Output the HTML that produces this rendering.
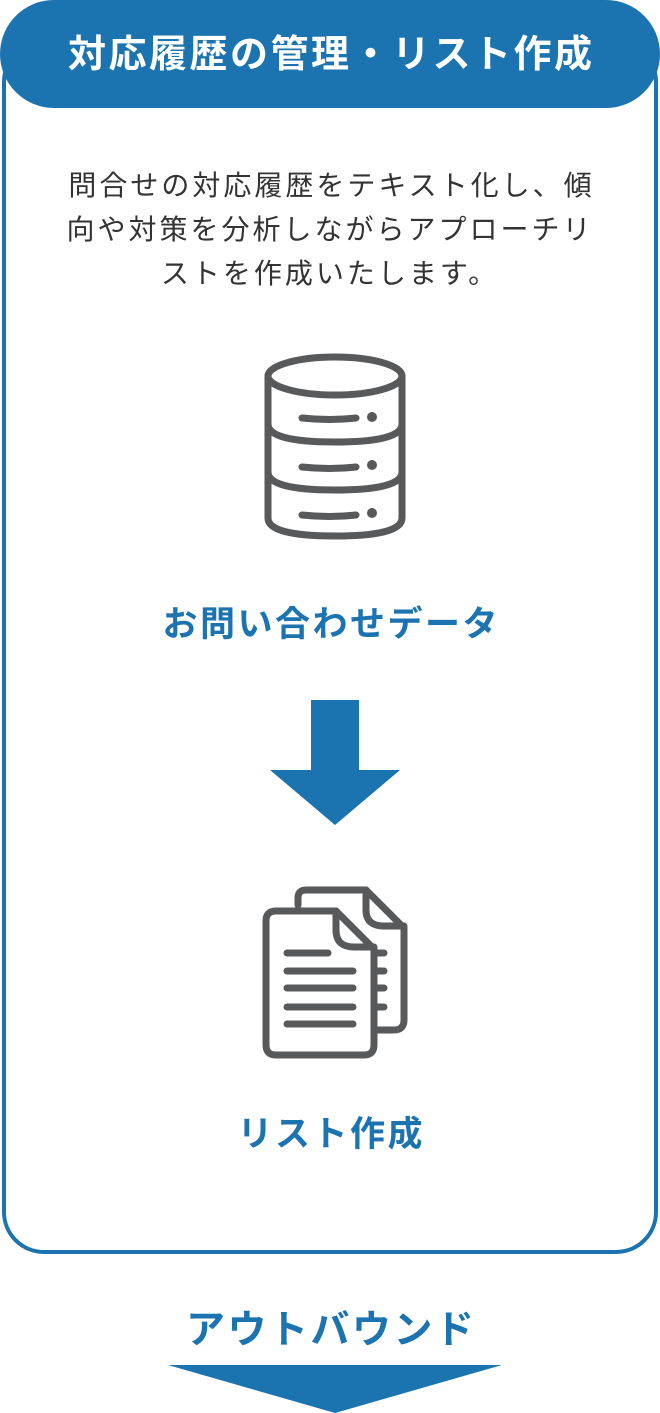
<!DOCTYPE html>
<html><head><meta charset="utf-8"><style>
html,body{margin:0;padding:0;background:#fff}
body{width:660px;height:1413px;position:relative;overflow:hidden;font-family:"Liberation Sans","Noto Sans CJK JP",sans-serif}
.box{position:absolute;left:2px;top:40px;width:648px;height:1206px;border:4px solid #1b73b0;border-radius:42px}
.pill{position:absolute;left:0;top:0;width:660px;height:108px;background:#1b73b0;border-radius:54px;color:#fff;font-size:38px;font-weight:bold;text-align:center;line-height:110px;letter-spacing:2.5px;text-indent:2.5px}
.desc{position:absolute;left:0;width:660px;top:164px;text-align:center;font-size:28px;line-height:44px;color:#333;letter-spacing:3px;text-indent:3px}
.lbl{position:absolute;left:0;width:660px;text-align:center;color:#1b73b0;font-weight:bold;font-size:35px;letter-spacing:2.5px;text-indent:2.5px}
svg{position:absolute;left:0;top:0}
</style></head><body>
<div class="box"></div>
<div class="pill">対応履歴の管理・リスト作成</div>
<div class="desc">問合せの対応履歴をテキスト化し、傾<br>向や対策を分析しながらアプローチリ<br>ストを作成いたします。</div>
<div class="lbl" style="top:596px">お問い合わせデータ</div>
<div class="lbl" style="top:1106px">リスト作成</div>
<div class="lbl" style="top:1299px;font-size:39px;letter-spacing:2.5px;text-indent:2.5px">アウトバウンド</div>
<svg width="660" height="1413" viewBox="0 0 660 1413">
<g fill="none" stroke="#58595b" stroke-width="7" stroke-linecap="round" stroke-linejoin="round">
<ellipse cx="335" cy="376" rx="67" ry="19"/>
<path d="M268 376 V518 Q268 536 335 536 Q402 536 402 518 V376"/>
<path d="M268 424 Q268 442 335 442 Q402 442 402 424"/>
<path d="M268 472 Q268 490 335 490 Q402 490 402 472"/>
<path d="M302 418 Q330 421 356 418 M302 467 Q330 470 356 467 M302 515 Q330 518 356 515"/>
<path d="M298 905 V898 Q298 890 306 890 H366 L404 928 V1020 Q404 1030 394 1030 H378"/>
<path d="M366 890 V910 Q366 926 384 926 H404"/>
<path d="M377 953 H384 M377 971 H384 M377 988 H384 M377 1007 H384"/>
<path d="M276 911 H336 L374 949 V1045 Q374 1055 364 1055 H276 Q266 1055 266 1045 V921 Q266 911 276 911 Z"/>
<path d="M336 911 V930 Q336 947 354 947 H374"/>
<path d="M287 953 H328 M287 971 H353 M287 988 H353 M287 1007 H353 M287 1024 H353"/>
</g>
<g fill="#58595b"><circle cx="372" cy="417" r="5"/><circle cx="372" cy="465" r="5"/><circle cx="372" cy="513" r="5"/></g>
<path d="M311 700 H359 V770 H400 L335 825 L270 770 H311 Z" fill="#1b73b0"/>
<path d="M168 1365 H502 L335 1413 Z" fill="#1b73b0"/>
</svg>
</body></html>
